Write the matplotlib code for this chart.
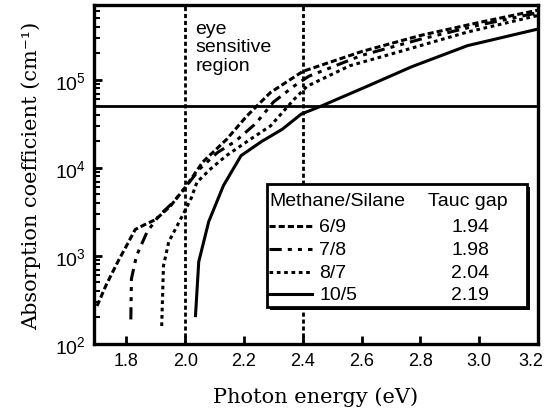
import numpy as np
import matplotlib
matplotlib.use("Agg")
import matplotlib.pyplot as plt
import matplotlib.transforms as mtransforms
from matplotlib.patches import Rectangle
from matplotlib.ticker import LogLocator, NullFormatter, FixedLocator

# values
e_69 = [1.70, 1.73, 1.77, 1.80, 1.83, 1.86, 1.90, 1.95, 2.00, 2.06, 2.14, 2.21, 2.29, 2.40, 2.60, 2.80, 3.00, 3.20]
a_69 = [270, 460, 850, 1300, 2000, 2250, 2600, 3700, 6000, 11700, 21000, 39000, 72000, 125000, 210000, 320000, 450000, 620000]

e_78 = [1.815, 1.817, 1.834, 1.87, 1.91, 1.96, 2.00, 2.05, 2.11, 2.17, 2.24, 2.30, 2.37, 2.42, 2.60, 2.80, 3.00, 3.20]
a_78 = [190, 550, 1000, 1870, 2850, 4100, 6000, 9800, 15000, 20000, 32000, 56000, 85000, 110000, 190000, 290000, 420000, 580000]

e_87 = [1.92, 1.926, 1.944, 1.99, 2.02, 2.04, 2.087, 2.14, 2.22, 2.29, 2.37, 2.415, 2.56, 2.73, 2.96, 3.20]
a_87 = [160, 770, 1450, 2850, 4500, 6900, 9800, 13800, 21000, 30000, 60000, 85000, 145000, 210000, 350000, 540000]

e_105 = [2.035, 2.046, 2.08, 2.13, 2.19, 2.26, 2.33, 2.395, 2.46, 2.62, 2.77, 2.96, 3.195]
a_105 = [210, 860, 2460, 6300, 13800, 20000, 27500, 41000, 50000, 85000, 141000, 245000, 375000]

ratios = ["6/9", "7/8", "8/7", "10/5"]
tauc = ["1.94", "1.98", "2.04", "2.19"]
styles = [(0, (2, 1)), (0, (4, 2, 1.3, 2, 1.3, 2)), (0, (1.2, 1.2)), "-"]

plt.rcParams['font.family'] = ['Liberation Sans', 'DejaVu Sans']
plt.rcParams['font.size'] = 14

fig = plt.figure(figsize=(5.47, 4.14), dpi=100)
ax = fig.add_axes([0.172, 0.1667, 0.8115, 0.8188])

lw = 2.2
series = [(e_69, a_69), (e_78, a_78), (e_87, a_87), (e_105, a_105)]
for (e, a), ls in zip(series, styles):
    ax.plot(e, a, color='black', lw=lw, ls=ls)

# eye sensitive region markers
ax.axvline(2.0, color='black', lw=2, ls=(0, (1.5, 1)))
ax.axvline(2.4, color='black', lw=2, ls=(0, (1.5, 1)))
ax.axhline(5e4, color='black', lw=2)
ax.text(2.035, 4.8e5, "eye\nsensitive\nregion", ha='left', va='top', linespacing=1.1)

ax.set_yscale('log')
ax.set_xlim(1.69, 3.2)
ax.set_ylim(100, 7.1e5)

ax.xaxis.set_major_locator(FixedLocator([1.8, 2.0, 2.2, 2.4, 2.6, 2.8, 3.0, 3.2]))
ax.set_xticklabels(["1.8", "2.0", "2.2", "2.4", "2.6", "2.8", "3.0", "3.2"], fontsize=13)
ax.yaxis.set_major_locator(LogLocator(base=10))
ax.yaxis.set_minor_locator(LogLocator(base=10, subs=np.arange(2, 10)))
ax.yaxis.set_minor_formatter(NullFormatter())

ax.tick_params(axis='both', which='both', direction='in', top=False, right=False)
ax.tick_params(axis='both', which='major', length=6, width=2, pad=6)
ax.tick_params(axis='y', which='minor', length=4, width=1.5)
for s in ax.spines.values():
    s.set_linewidth(2.4)

# last x label sits on the figure edge: nudge it left a little
last = ax.get_xticklabels()[-1]
last.set_transform(last.get_transform() + mtransforms.ScaledTranslation(-7 / 100, 0, fig.dpi_scale_trans))

ax.set_xlabel("Photon energy (eV)", family='DejaVu Serif', fontsize=15, labelpad=12)
ax.set_ylabel("Absorption coefficient (cm⁻¹)", family='DejaVu Serif', fontsize=15, labelpad=10)

# legend box drawn by hand, like the original
tr = ax.transAxes
ax.add_patch(Rectangle((0.396, 0.101), 0.585, 0.363, transform=tr, facecolor='black', zorder=5))
ax.add_patch(Rectangle((0.39, 0.109), 0.585, 0.363, transform=tr, facecolor='white',
                       edgecolor='black', lw=2, zorder=6))
ax.text(0.396, 0.422, "Methane/Silane", transform=tr, va='center', ha='left', zorder=7)
ax.text(0.752, 0.422, "Tauc gap", transform=tr, va='center', ha='left', zorder=7)
rows = [0.348, 0.280, 0.212, 0.147]
for y, r, t, ls in zip(rows, ratios, tauc, styles):
    ax.plot([0.395, 0.49], [y, y], transform=tr, color='black', lw=lw, ls=ls, zorder=7)
    ax.text(0.507, y, r, transform=tr, va='center', ha='left', zorder=7)
    ax.text(0.847, y, t, transform=tr, va='center', ha='center', zorder=7)

fig.savefig("out.png", dpi=100)
